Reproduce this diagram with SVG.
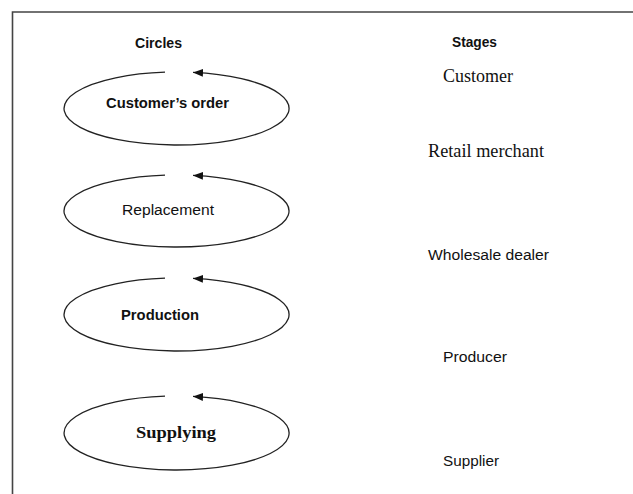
<svg xmlns="http://www.w3.org/2000/svg" width="633" height="494" viewBox="0 0 633 494">
<style>
.cal{font-family:"Liberation Sans","DejaVu Sans",sans-serif;fill:#111}
.b{font-weight:bold}
.tnr{font-family:"Liberation Serif","DejaVu Serif",serif;fill:#111}
.loop{fill:none;stroke:#222;stroke-width:1.3}
.frame{stroke:#444;stroke-width:1.6;fill:none}
</style>
<defs>
<marker id="ah" markerUnits="userSpaceOnUse" markerWidth="11" markerHeight="9" refX="10" refY="4" orient="auto">
<path d="M0,0 L10,4 L0,8 z" fill="#111"/>
</marker>
</defs>
<rect width="633" height="494" fill="#fff"/>
<g id="frame">
<path class="frame" d="M12.5,494 V12 H633"/>
</g>
<g id="headers">
<text class="cal b" x="135" y="48" font-size="15" textLength="47" lengthAdjust="spacingAndGlyphs">Circles</text>
<text class="cal b" x="452" y="47" font-size="15" textLength="45" lengthAdjust="spacingAndGlyphs">Stages</text>
</g>
<g id="connectors">
<path class="loop" marker-end="url(#ah)" d="M165,72.2 A112.5,36.5 0 1 0 193,72.4"/>
<path class="loop" marker-end="url(#ah)" d="M165,175.2 A112.5,36 0 1 0 193,175.4"/>
<path class="loop" marker-end="url(#ah)" d="M165,278.2 A112.5,36.5 0 1 0 193,278.4"/>
<path class="loop" marker-end="url(#ah)" d="M165,396.2 A112.5,37 0 1 0 193,396.4"/>
</g>
<g id="node-customers-order">
<text class="cal b" x="106" y="108" font-size="15.5" textLength="123" lengthAdjust="spacingAndGlyphs">Customer’s order</text>
</g>
<g id="node-replacement">
<text class="cal" x="122" y="215" font-size="15.5" textLength="92" lengthAdjust="spacingAndGlyphs">Replacement</text>
</g>
<g id="node-production">
<text class="cal b" x="121" y="320" font-size="15.5" textLength="78" lengthAdjust="spacingAndGlyphs">Production</text>
</g>
<g id="node-supplying">
<text class="tnr b" x="136" y="438" font-size="17" textLength="80" lengthAdjust="spacingAndGlyphs">Supplying</text>
</g>
<g id="stages">
<text class="tnr" x="443" y="82" font-size="18" textLength="70" lengthAdjust="spacingAndGlyphs">Customer</text>
<text class="tnr" x="428" y="157" font-size="18.5" textLength="116" lengthAdjust="spacingAndGlyphs">Retail merchant</text>
<text class="cal" x="428" y="260" font-size="15.5" textLength="121" lengthAdjust="spacingAndGlyphs">Wholesale dealer</text>
<text class="cal" x="443" y="362" font-size="15.5" textLength="64" lengthAdjust="spacingAndGlyphs">Producer</text>
<text class="cal" x="443" y="466" font-size="15.5" textLength="56" lengthAdjust="spacingAndGlyphs">Supplier</text>
</g>
</svg>
